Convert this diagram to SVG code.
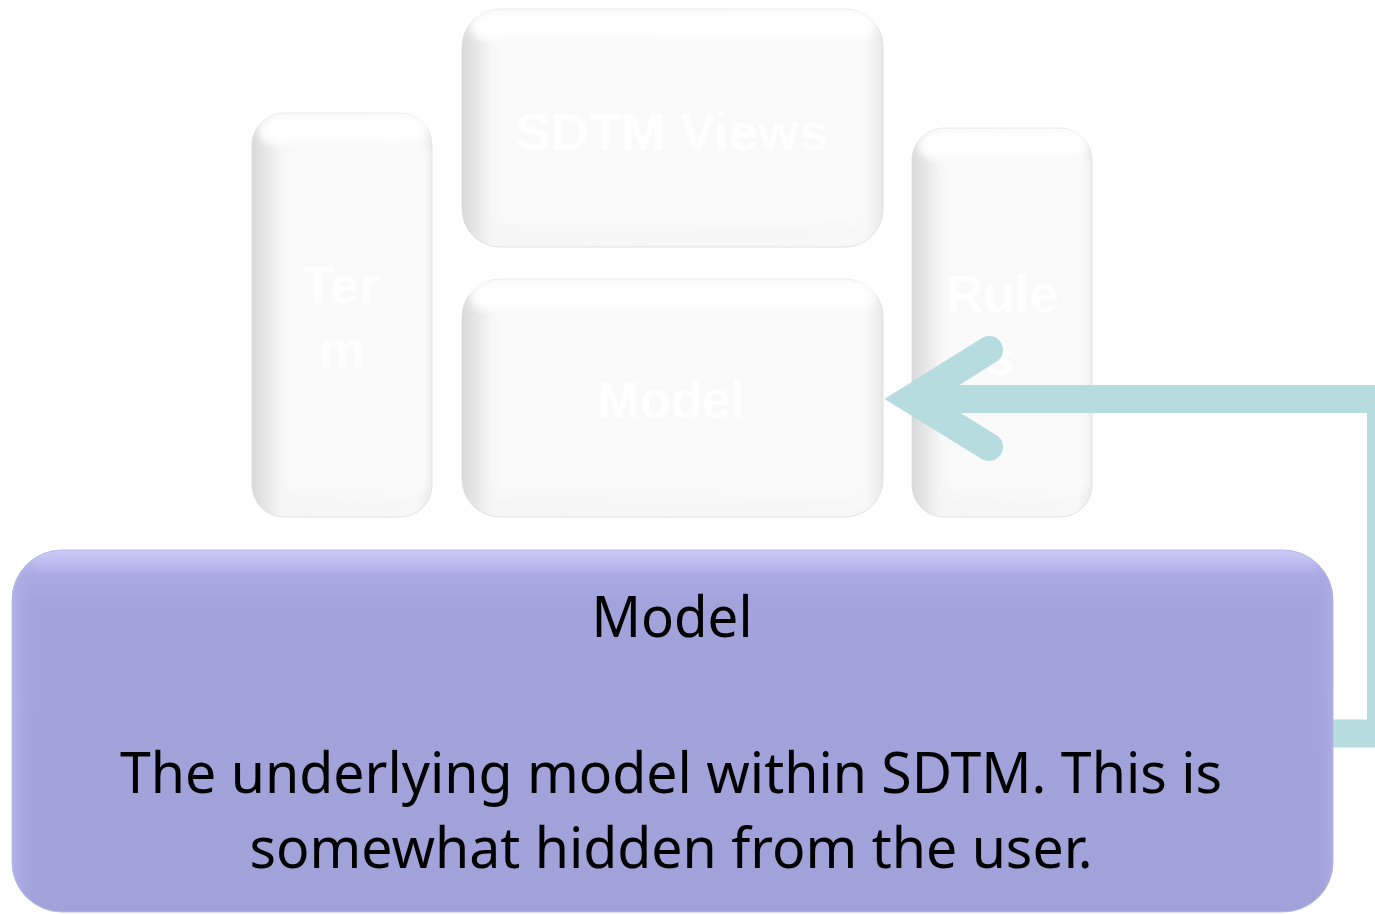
<svg xmlns="http://www.w3.org/2000/svg" width="1375" height="914" viewBox="0 0 1375 914">
  <defs>
    <style>
      .edge { stroke: #DADADA; stroke-width: 0.8; }
      .face { fill: #FAFAFA; }
      .hi { fill: #FFFFFF; }
      .wlabel { font-family: "Liberation Sans", Arial, sans-serif; font-weight: bold; fill: #FFFFFF; text-anchor: middle; }
      .plabel { font-family: "Noto Sans", "Open Sans", sans-serif; fill: #000000; text-anchor: middle; }
      .link { fill: none; stroke: #B6DCDF; stroke-width: 28; }
    </style>
    <!-- side shading for the narrow (180 px) tiles -->
    <linearGradient id="shadeNarrow" x1="0" y1="0" x2="1" y2="0">
      <stop offset="0" stop-color="#D9D9D9"/>
      <stop offset="0.16" stop-color="#F6F6F6"/>
      <stop offset="0.92" stop-color="#F8F8F8"/>
      <stop offset="1" stop-color="#E8E8E8"/>
    </linearGradient>
    <!-- side shading for the wide (422 px) tiles -->
    <linearGradient id="shadeWide" x1="0" y1="0" x2="1" y2="0">
      <stop offset="0" stop-color="#D9D9D9"/>
      <stop offset="0.07" stop-color="#F6F6F6"/>
      <stop offset="0.96" stop-color="#F8F8F8"/>
      <stop offset="1" stop-color="#E8E8E8"/>
    </linearGradient>
    <linearGradient id="purpleTop" x1="0" y1="0" x2="0" y2="1">
      <stop offset="0" stop-color="#CDCDF8"/>
      <stop offset="0.07" stop-color="#ABABE4"/>
      <stop offset="0.15" stop-color="#A3A3DC"/>
      <stop offset="1" stop-color="#A2A2DB"/>
    </linearGradient>
    <linearGradient id="purpleSide" x1="0" y1="0" x2="1" y2="0">
      <stop offset="0" stop-color="#B4B4EA" stop-opacity="0.9"/>
      <stop offset="0.02" stop-color="#A3A3DC" stop-opacity="0"/>
      <stop offset="0.985" stop-color="#A3A3DC" stop-opacity="0"/>
      <stop offset="1" stop-color="#B0B0E6" stop-opacity="0.8"/>
    </linearGradient>
    <filter id="soft" x="-10%" y="-10%" width="120%" height="120%">
      <feGaussianBlur stdDeviation="4"/>
    </filter>
  </defs>

  <rect width="1375" height="914" fill="#FFFFFF"/>

  <!-- Term tile -->
  <g id="node-term">
    <rect x="252" y="113" width="180" height="404" rx="32" fill="url(#shadeNarrow)" class="edge"/>
    <rect x="258" y="115" width="170" height="30" rx="20" class="hi" filter="url(#soft)"/>
    <rect x="285" y="143" width="144" height="350" rx="8" class="face" filter="url(#soft)"/>
    <text class="wlabel" x="341" y="303" font-size="52">Ter</text>
    <text class="wlabel" x="342" y="367" font-size="52">m</text>
  </g>

  <!-- SDTM Views tile -->
  <g id="node-views">
    <rect x="462" y="9" width="421" height="238" rx="38" fill="url(#shadeWide)" class="edge"/>
    <rect x="470" y="11" width="405" height="30" rx="20" class="hi" filter="url(#soft)"/>
    <rect x="496" y="40" width="364" height="184" rx="8" class="face" filter="url(#soft)"/>
    <text class="wlabel" x="672" y="150" font-size="52" textLength="313" lengthAdjust="spacingAndGlyphs">SDTM Views</text>
  </g>

  <!-- Model tile -->
  <g id="node-model-tile">
    <rect x="462" y="279" width="421" height="238" rx="38" fill="url(#shadeWide)" class="edge"/>
    <rect x="470" y="281" width="405" height="30" rx="20" class="hi" filter="url(#soft)"/>
    <rect x="496" y="310" width="364" height="184" rx="8" class="face" filter="url(#soft)"/>
    <text class="wlabel" x="671" y="418" font-size="51">Model</text>
  </g>

  <!-- Rules tile -->
  <g id="node-rules">
    <rect x="912" y="128" width="180" height="389" rx="32" fill="url(#shadeNarrow)" class="edge"/>
    <rect x="918" y="130" width="170" height="30" rx="20" class="hi" filter="url(#soft)"/>
    <rect x="945" y="158" width="144" height="335" rx="8" class="face" filter="url(#soft)"/>
    <text class="wlabel" x="1002" y="312" font-size="52">Rule</text>
    <text class="wlabel" x="1000" y="375" font-size="52">s</text>
  </g>

  <!-- connector: from the Model panel back up to the Model tile -->
  <g id="connectors">
    <path class="link" d="M 1320 733.5 H 1381 V 399 H 915"/>
    <polyline class="link" points="989,350 911,399 989,447" stroke-linecap="round" stroke-linejoin="miter"/>
  </g>

  <!-- Model description panel -->
  <g id="node-model-panel">
    <rect x="12" y="550" width="1321" height="362" rx="50" fill="url(#purpleTop)" stroke="#B8B8EC" stroke-width="1"/>
    <rect x="12" y="550" width="1321" height="362" rx="50" fill="url(#purpleSide)"/>
    <text class="plabel" x="672" y="637" font-size="56" textLength="161" lengthAdjust="spacingAndGlyphs">Model</text>
    <text class="plabel" x="671" y="793" font-size="56" textLength="1102" lengthAdjust="spacingAndGlyphs">The underlying model within SDTM. This is</text>
    <text class="plabel" x="671" y="868" font-size="56" textLength="843" lengthAdjust="spacingAndGlyphs">somewhat hidden from the user.</text>
  </g>
</svg>
